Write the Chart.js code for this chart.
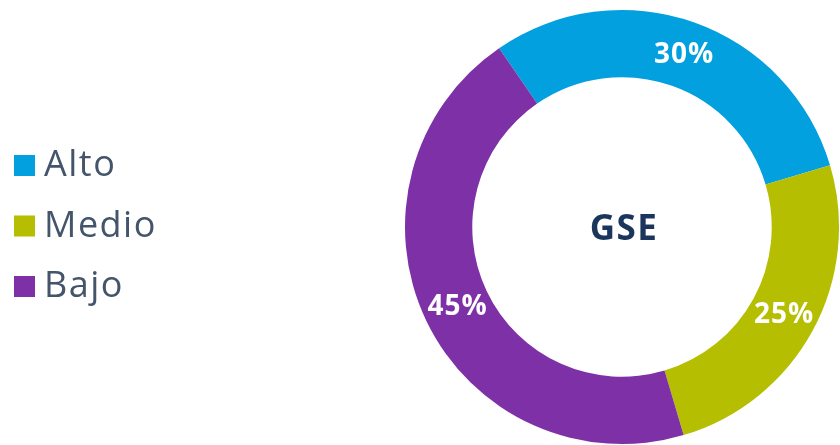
<!DOCTYPE html>
<html>
<head>
<meta charset="utf-8">
<script src="https://cdn.jsdelivr.net/npm/chart.js@4/dist/chart.umd.min.js"></script>
<style>
  html, body { margin: 0; padding: 0; background: #fff; }
</style>
</head>
<body>
<canvas id="gseChart" width="840" height="445"></canvas>
<script>
  var categories = ["Alto", "Medio", "Bajo"];
  var values = [30, 25, 45];
  var colors = ['#02a0de', '#b5be00', '#7e31a6'];
  var centerTitle = "GSE";

  // leyenda a la izquierda (dibujada en el canvas)
  var sideLegend = {
    id: 'sideLegend',
    afterDraw: function(chart){
      var c = chart.ctx;
      c.save();
      c.font = '36px "Open Sans"';
      c.textBaseline = 'alphabetic';
      c.textAlign = 'left';
      if ('letterSpacing' in c) c.letterSpacing = '1.5px';
      categories.forEach(function(cat, i){
        var y = 176 + i * 60.5;
        c.fillStyle = colors[i];
        c.fillRect(14, y - 21, 21, 21);
        c.fillStyle = '#44546a';
        c.fillText(cat, 44, y);
      });
      c.restore();
    }
  };

  // porcentajes y titulo central
  var labelsPlugin = {
    id: 'labelsPlugin',
    afterDatasetsDraw: function(chart){
      var c = chart.ctx;
      var meta = chart.getDatasetMeta(0);
      c.save();
      c.fillStyle = '#ffffff';
      c.font = 'bold 28px "Open Sans"';
      c.textAlign = 'center';
      c.textBaseline = 'middle';
      if ('letterSpacing' in c) c.letterSpacing = '1px';
      meta.data.forEach(function(arc, i){
        var p = arc.getCenterPoint();
        c.fillText(values[i] + '%', p.x + 1, p.y + 1);
      });
      var a = meta.data[0];
      c.fillStyle = '#1b365d';
      c.font = 'bold 35px "Open Sans"';
      if ('letterSpacing' in c) c.letterSpacing = '1.5px';
      c.fillText(centerTitle, a.x + 2, a.y + 3);
      c.restore();
    }
  };

  var ctx = document.getElementById("gseChart");
  var gseChart = new Chart(ctx, {
    type: 'doughnut',
    data: {
      labels: categories,
      datasets: [{
        data: values,
        backgroundColor: colors,
        borderWidth: 0,
        hoverOffset: 0
      }]
    },
    options: {
      responsive: false,
      animation: false,
      rotation: -34.5,
      cutout: '69%',
      layout: { padding: { top: 10, bottom: 1, left: 404, right: 0 } },
      plugins: {
        tooltip: { enabled: false },
        legend: { display: false }
      }
    },
    plugins: [sideLegend, labelsPlugin]
  });
</script>
</body>
</html>
